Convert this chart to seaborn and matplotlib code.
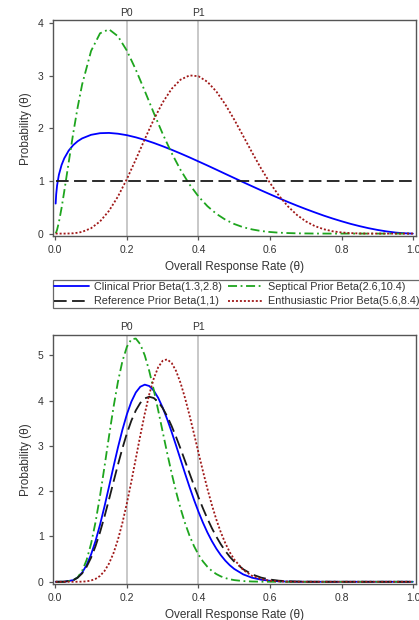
import seaborn as sns
import matplotlib
matplotlib.use("Agg")
import matplotlib.pyplot as plt
import matplotlib.transforms as mtransforms

# response rate grid (theta) for the prior panel
theta_prior = [0.001, 0.0025, 0.005, 0.01, 0.0175, 0.025, 0.0375, 0.05, 0.0625,
               0.075, 0.1, 0.125, 0.15, 0.175, 0.2, 0.225, 0.25, 0.275, 0.3,
               0.325, 0.35, 0.375, 0.4, 0.425, 0.45, 0.475, 0.5, 0.525, 0.55,
               0.575, 0.6, 0.625, 0.65, 0.675, 0.7, 0.725, 0.75, 0.775, 0.8,
               0.825, 0.85, 0.875, 0.9, 0.925, 0.95, 0.975, 0.999]

# top panel: prior densities
prior_clinical = [0.57, 0.747, 0.915, 1.117, 1.303, 1.430, 1.578, 1.681, 1.755,
                  1.809, 1.877, 1.908, 1.913, 1.898, 1.870, 1.829, 1.780, 1.723, 1.660,
                  1.593, 1.522, 1.448, 1.371, 1.294, 1.215, 1.135, 1.056, 0.977, 0.899,
                  0.822, 0.747, 0.673, 0.601, 0.532, 0.466, 0.403, 0.342, 0.286, 0.234,
                  0.185, 0.142, 0.103, 0.070, 0.042, 0.020, 0.006, 0.0]
prior_septical = [0.006, 0.025, 0.074, 0.214, 0.487, 0.802, 1.357, 1.903, 2.402,
                  2.835, 3.471, 3.806, 3.882, 3.750, 3.476, 3.114, 2.710, 2.295, 1.896,
                  1.531, 1.209, 0.934, 0.706, 0.521, 0.376, 0.265, 0.182, 0.121, 0.079,
                  0.049, 0.030, 0.017, 0.010, 0.005, 0.003, 0.001, 0.0005, 0, 0,
                  0, 0, 0, 0, 0, 0, 0, 0]
prior_reference = [1.0] * len(theta_prior)
prior_enthusiastic = [0, 0, 0, 0, 0, 0.0003, 0.002, 0.006, 0.016,
                      0.033, 0.102, 0.231, 0.432, 0.704, 1.036, 1.409, 1.794, 2.165, 2.491,
                      2.750, 2.925, 3.006, 2.990, 2.884, 2.700, 2.454, 2.166, 1.854, 1.539,
                      1.237, 0.961, 0.719, 0.517, 0.355, 0.232, 0.143, 0.083, 0.044, 0.021,
                      0.009, 0.003, 0.001, 0.0002, 0, 0, 0, 0]

# response rate grid (theta) for the posterior panel
theta_post = [0.001, 0.005, 0.01, 0.025,
              0.05, 0.0625, 0.075, 0.0875, 0.1, 0.1125, 0.125, 0.1375, 0.15, 0.1625,
              0.175, 0.1875, 0.2, 0.2125, 0.225, 0.2375, 0.25, 0.2625, 0.275, 0.2875,
              0.3, 0.3125, 0.325, 0.3375, 0.35, 0.3625, 0.375, 0.3875, 0.4, 0.4125,
              0.425, 0.4375, 0.45, 0.4625, 0.475, 0.4875, 0.5,
              0.525, 0.55, 0.575, 0.6, 0.625, 0.65, 0.675, 0.7, 0.725, 0.75,
              0.775, 0.8, 0.825, 0.85, 0.875, 0.9, 0.925, 0.95, 0.975, 0.999]

# bottom panel: posterior densities
post_clinical = [0, 0, 0, 0.001,
                 0.036, 0.095, 0.202, 0.370, 0.603, 0.903, 1.261, 1.665, 2.097, 2.536,
                 2.962, 3.354, 3.696, 3.974, 4.178, 4.304, 4.350, 4.320, 4.220, 4.058,
                 3.844, 3.590, 3.307, 3.006, 2.698, 2.391, 2.093, 1.810, 1.546, 1.305,
                 1.088, 0.897, 0.730, 0.587, 0.466, 0.365, 0.283,
                 0.163, 0.089, 0.046, 0.022, 0.010, 0.004, 0.0015, 0.0005, 0, 0,
                 0, 0, 0, 0, 0, 0, 0, 0, 0, 0]
post_septical = [0, 0, 0, 0.0006,
                 0.031, 0.098, 0.239, 0.481, 0.841, 1.320, 1.898, 2.542, 3.208, 3.847,
                 4.413, 4.868, 5.185, 5.352, 5.367, 5.241, 4.995, 4.651, 4.238, 3.783,
                 3.311, 2.843, 2.398, 1.986, 1.617, 1.294, 1.018, 0.788, 0.600, 0.449,
                 0.331, 0.239, 0.170, 0.119, 0.082, 0.055, 0.037,
                 0.015, 0.006, 0.002, 0.0007, 0, 0, 0, 0, 0, 0,
                 0, 0, 0, 0, 0, 0, 0, 0, 0, 0]
post_reference = [0, 0, 0, 0.0016,
                  0.035, 0.090, 0.185, 0.331, 0.532, 0.788, 1.095, 1.441, 1.815, 2.201,
                  2.583, 2.945, 3.273, 3.555, 3.782, 3.947, 4.047, 4.082, 4.055, 3.970,
                  3.833, 3.653, 3.437, 3.195, 2.936, 2.666, 2.393, 2.125, 1.866, 1.621,
                  1.393, 1.183, 0.995, 0.827, 0.680, 0.552, 0.444,
                  0.276, 0.163, 0.092, 0.049, 0.024, 0.011, 0.005, 0.002, 0.0007, 0.0002,
                  0, 0, 0, 0, 0, 0, 0, 0, 0, 0]
post_enthusiastic = [0, 0, 0, 0,
                     0.0001, 0.0007, 0.003, 0.010, 0.028, 0.064, 0.129, 0.238, 0.401, 0.629,
                     0.929, 1.299, 1.733, 2.213, 2.721, 3.229, 3.709, 4.135, 4.482, 4.734,
                     4.877, 4.908, 4.829, 4.651, 4.386, 4.054, 3.675, 3.267, 2.850, 2.441,
                     2.052, 1.693, 1.372, 1.091, 0.852, 0.652, 0.491,
                     0.262, 0.129, 0.058, 0.024, 0.009, 0.003, 0.0009, 0.0002, 0, 0,
                     0, 0, 0, 0, 0, 0, 0, 0, 0, 0]

labels = ["Clinical Prior Beta(1.3,2.8)", "Septical Prior Beta(2.6,10.4)",
          "Reference Prior Beta(1,1)", "Enthusiastic Prior Beta(5.6,8.4)"]
colors = ["#0000ff", "#1ea51e", "#1a1a1a", "#a01818"]
styles = ["-", (0, (5, 2, 1, 2)), (0, (7, 3)), (0, (1.1, 1.1))]

ref_lines = [0.2, 0.4]
ref_names = ["P0", "P1"]
xticks = [0.0, 0.2, 0.4, 0.6, 0.8, 1.0]

sns.set_style("ticks")
plt.rcParams["font.family"] = ["Liberation Sans", "DejaVu Sans"]

TXT = "#333333"
SPINE = "#555555"


def _draw_panel(ax, theta, series, ymax, yticks):
    for xv in ref_lines:
        ax.axvline(xv, color="#c4c4c4", lw=1.3, zorder=1)
    for vals, c, ls, lab in zip(series, colors, styles, labels):
        sns.lineplot(x=theta, y=vals, ax=ax, color=c, linestyle=ls,
                     linewidth=1.3, label=lab, legend=False, zorder=3)
    trans = mtransforms.blended_transform_factory(ax.transData, ax.transAxes)
    for xv, name in zip(ref_lines, ref_names):
        ax.text(xv, 1.012, name, transform=trans, ha="center", va="bottom",
                fontsize=7.5, color=TXT)
    ax.set_xlim(-0.007, 1.008)
    ax.set_ylim(-0.05, ymax)
    ax.set_xticks(xticks)
    ax.set_xticklabels([f"{t:.1f}" for t in xticks])
    ax.set_yticks(yticks)
    ax.set_xlabel("Overall Response Rate (θ)", fontsize=8.5, color=TXT, labelpad=4)
    ax.set_ylabel("Probability (θ)", fontsize=8.5, color=TXT, labelpad=4)
    ax.tick_params(labelsize=7.5, colors=SPINE, labelcolor=TXT, length=3, width=0.9)
    for sp in ax.spines.values():
        sp.set_visible(True)
        sp.set_color(SPINE)
        sp.set_linewidth(1.0)


fig = plt.figure(figsize=(4.19, 6.2), dpi=100)
ax_top = fig.add_axes([0.126, 0.619, 0.867, 0.348])
ax_bot = fig.add_axes([0.126, 0.058, 0.867, 0.402])

_draw_panel(ax_top, theta_prior,
            [prior_clinical, prior_septical, prior_reference, prior_enthusiastic],
            4.05, [0, 1, 2, 3, 4])
_draw_panel(ax_bot, theta_post,
            [post_clinical, post_septical, post_reference, post_enthusiastic],
            5.45, [0, 1, 2, 3, 4, 5])

# legend fills column by column: clinical/reference left, septical/enthusiastic right
lines = ax_top.get_lines()[len(ref_lines):]
order = [0, 2, 1, 3]
leg = fig.legend([lines[i] for i in order], [labels[i] for i in order],
                 loc="upper left", bbox_to_anchor=(0.1258, 0.5484),
                 ncol=2, frameon=True, fancybox=False, fontsize=7.8,
                 handlelength=3.2, handletextpad=0.45, columnspacing=0.6,
                 borderpad=0.15, labelspacing=0.45, borderaxespad=0)
leg.get_frame().set_edgecolor("#444444")
leg.get_frame().set_linewidth(0.9)
for t in leg.get_texts():
    t.set_color(TXT)

fig.savefig("out.png", dpi=100)
